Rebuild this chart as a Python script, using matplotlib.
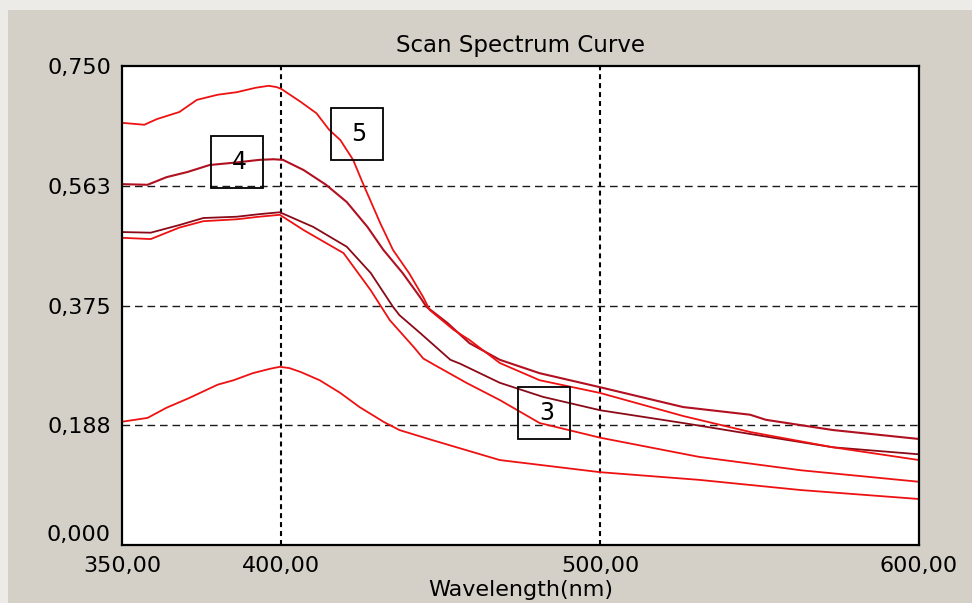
import matplotlib.pyplot as plt
from matplotlib.patches import Rectangle

# absorbance scans, wavelength in nm
wl_1 = [350, 357, 361, 368, 373.5, 380, 386, 392, 396, 398.5, 400, 406, 411, 415, 418.5,
        422.5, 425.5, 431, 435, 440, 444.5, 446.5, 454, 459, 468.5, 481, 500, 526, 547, 573, 600]
abs_1 = [0.661, 0.658, 0.667, 0.678, 0.697, 0.705, 0.709, 0.716, 0.719, 0.717, 0.714, 0.694, 0.676,
         0.650, 0.634, 0.603, 0.567, 0.504, 0.462, 0.426, 0.388, 0.368, 0.337, 0.321, 0.285, 0.258,
         0.238, 0.202, 0.177, 0.153, 0.133]

wl_2 = [350, 358, 364, 370.5, 377.5, 386, 393, 397.5, 400.5, 407, 414, 420.5, 427, 432, 438,
        443.5, 445.5, 452, 459, 468.5, 481, 500, 526, 547, 552, 573, 600]
abs_2 = [0.565, 0.564, 0.576, 0.584, 0.595, 0.599, 0.603, 0.604, 0.603, 0.587, 0.564, 0.537, 0.498,
         0.462, 0.426, 0.388, 0.373, 0.348, 0.316, 0.290, 0.269, 0.247, 0.216, 0.204, 0.196, 0.180, 0.166]

wl_3 = [350, 359, 368, 375.5, 386, 393, 399.5, 410, 420.5, 428, 435, 437, 443.5, 453, 456,
        468.5, 482, 500, 526, 553, 573, 600]
abs_3 = [0.490, 0.489, 0.501, 0.512, 0.514, 0.518, 0.521, 0.498, 0.467, 0.426, 0.373, 0.360, 0.332,
         0.290, 0.284, 0.254, 0.232, 0.211, 0.191, 0.169, 0.153, 0.142]

wl_4 = [350, 359, 368, 375.5, 386, 393, 399.5, 407, 419.5, 428, 434, 441.5, 444.5, 448, 458,
        468.5, 481, 500, 531, 563, 600]
abs_4 = [0.481, 0.479, 0.497, 0.507, 0.510, 0.514, 0.517, 0.493, 0.457, 0.399, 0.352, 0.310, 0.292,
         0.282, 0.254, 0.227, 0.191, 0.168, 0.138, 0.117, 0.099]

wl_5 = [350, 358, 364, 371, 380, 385, 391, 396.5, 399.5, 402.5, 406, 412, 418.5, 424.5, 432,
        437, 447.5, 468.5, 500, 531, 563, 600]
abs_5 = [0.193, 0.199, 0.215, 0.230, 0.251, 0.258, 0.269, 0.276, 0.279, 0.277, 0.271, 0.258, 0.238,
         0.216, 0.193, 0.180, 0.164, 0.133, 0.114, 0.102, 0.086, 0.072]

x_ticks = [350, 400, 500, 600]
x_labels = ['350,00', '400,00', '500,00', '600,00']
y_ticks = [0, 0.1875, 0.375, 0.5625, 0.75]
y_labels = ['0,000', '0,188', '0,375', '0,563', '0,750']

# curve markers: (text, wavelength, absorbance)
markers = [('5', 423.6, 0.643), ('4', 386.1, 0.600), ('3', 482.5, 0.207)]

fig = plt.figure(figsize=(9.72, 6.03), dpi=100, facecolor='#ECEBE8')
fig.add_artist(Rectangle((8 / 972, 0), 1, 1 - 10 / 603, transform=fig.transFigure,
                         facecolor='#D4D0C8', edgecolor='none', zorder=0))

ax = fig.add_axes([122 / 972, 58 / 603, 797 / 972, 479 / 603])
ax.set_facecolor('white')
ax.set_xlim(350, 600)
ax.set_ylim(0, 0.75)

# grid
for x in x_ticks[1:-1]:
    ax.axvline(x, color='black', lw=1.5, linestyle=(0, (2.4, 1.9)), zorder=1)
for y in y_ticks[1:-1]:
    ax.axhline(y, color='#1a1a1a', lw=1.0, linestyle=(0, (5.5, 3.5)), zorder=1)

red = '#EE1111'
ax.plot(wl_5, abs_5, color=red, lw=1.3, zorder=2)
ax.plot(wl_4, abs_4, color=red, lw=1.3, zorder=2)
ax.plot(wl_3, abs_3, color='#8A0A18', lw=1.3, zorder=2)
ax.plot(wl_2, abs_2, color='#B01020', lw=1.5, zorder=2)
ax.plot(wl_1, abs_1, color=red, lw=1.3, zorder=2)

# numbered boxes on the curves
bw, bh = 52 / 797, 52 / 479
for text, wl, a in markers:
    cx, cy = ax.transAxes.inverted().transform(ax.transData.transform((wl, a)))
    ax.add_patch(Rectangle((cx - bw / 2, cy - bh / 2), bw, bh, transform=ax.transAxes,
                           fill=False, edgecolor='black', lw=1.3, zorder=3))
    ax.text(cx + 0.003, cy, text, transform=ax.transAxes, ha='center', va='center',
            fontsize=17, color='black', zorder=4)

ax.set_xticks(x_ticks)
ax.set_xticklabels(x_labels, fontsize=16)
ax.set_yticks(y_ticks)
ax.set_yticklabels(y_labels, fontsize=16)
ax.get_yticklabels()[0].set_va('bottom')
ax.tick_params(axis='both', length=0, colors='black')
ax.tick_params(axis='x', pad=8)
ax.tick_params(axis='y', pad=8)

for side in ax.spines.values():
    side.set_linewidth(1.6)
    side.set_color('black')

ax.set_title('Scan Spectrum Curve', fontsize=16.5, pad=10)
ax.set_xlabel('Wavelength(nm)', fontsize=16, labelpad=3)

fig.savefig('out.png', dpi=100, facecolor=fig.get_facecolor())
